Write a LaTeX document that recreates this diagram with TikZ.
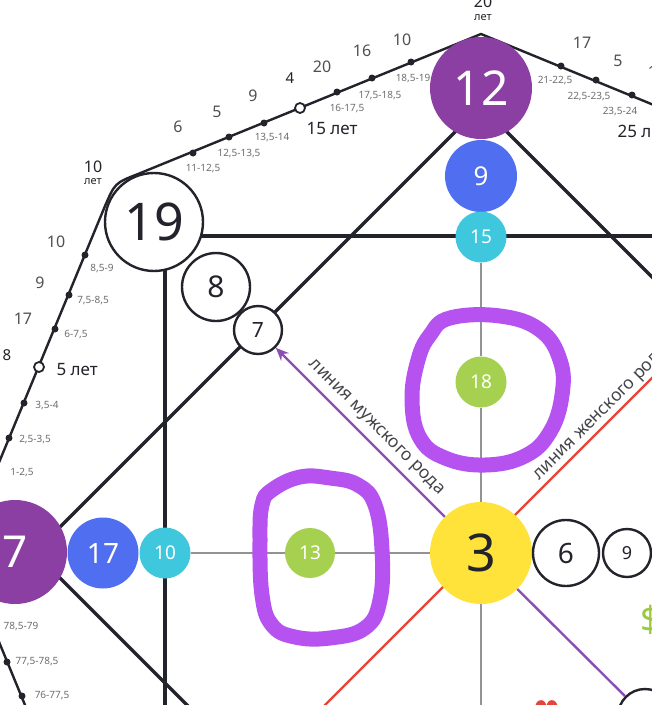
\documentclass[tikz,border=0pt]{standalone}
\usepackage{fontspec}
\setmainfont{Noto Sans}
\newfontfamily\symbolfont{DejaVu Sans}
\usetikzlibrary{arrows.meta}
\definecolor{plum}{HTML}{8B3FA3}
\definecolor{royal}{HTML}{4F6EF0}
\definecolor{aqua}{HTML}{3FC7DE}
\definecolor{leaf}{HTML}{A6D150}
\definecolor{sun}{HTML}{FFE33B}
\definecolor{ink}{HTML}{23232B}
\definecolor{agegray}{HTML}{6E6E73}
\definecolor{numgray}{HTML}{505055}
\definecolor{maleline}{HTML}{8D4DB5}
\definecolor{femaleline}{HTML}{E5443A}
\definecolor{marker}{HTML}{B653F0}
\definecolor{money}{HTML}{9BCB3C}
\newcommand{\sizept}[1]{\fontsize{#1}{#1}\selectfont}

\begin{document}
\begin{tikzpicture}[x=1pt, y=-1pt,
    ball/.style={circle, inner sep=0pt, text=white},
    ring/.style={circle, draw=ink, line width=2.4pt, fill=white, inner sep=0pt, text=ink},
    gridline/.style={ink, line width=3.2pt},
    octline/.style={ink, line width=2.4pt},
    midline/.style={gray!85, line width=1.8pt},
    agedot/.style={circle, fill=ink, inner sep=0pt, minimum size=7pt},
    opendot/.style={circle, draw=ink, fill=white, line width=1.8pt, inner sep=0pt, minimum size=10pt},
    age/.style={text=agegray, font=\sizept{10}},
    agenum/.style={text=numgray, font=\sizept{16}},
    year/.style={text=ink, font=\bfseries\sizept{17}},
    linelabel/.style={text=ink!85, font=\sizept{17.5}},
    handloop/.style={marker, line width=15pt, line cap=round, line join=round},
  ]
    \useasboundingbox (0,0) rectangle (652,705);
    \clip (0,0) rectangle (652,705);
    \fill[white] (0,0) rectangle (652,705);

    % Outer contour
    \coordinate (oLeft) at (-38,552);
    \coordinate (oCorner) at (115,183);
    \coordinate (oTop) at (481,34);
    \draw[octline] (32,722) -- (oLeft) -- (105,206) .. controls (oCorner) .. (138,174) -- (oTop) -- (700,124);

    % Square and diamond
    \draw[gridline] (154,236) -- (660,236);
    \draw[gridline] (165,222) -- (165,710);
    \draw[gridline] (500,87) -- (20,567);
    \draw[gridline] (20,538) -- (230,748);
    \draw[gridline] (470,95) -- (720,345);

    % Female line
    \draw[femaleline, line width=2.2pt] (300,730) -- (680,350);

    % Ages, top left edge
    \node[age] (a11) at (203,169) {11-12,5};
    \node[age] (a12) at (239,154) {12,5-13,5};
    \node[age] (a13) at (272,138) {13,5-14};
    \node[age] (a16) at (347,109) {16-17,5};
    \node[age] (a17) at (380,96) {17,5-18,5};
    \node[age] (a18) at (413,79) {18,5-19};
    \node[agedot] (d11) at (193,153) {};
    \node[agedot] (d12) at (229,137) {};
    \node[agedot] (d13) at (264,123) {};
    \node[opendot] (d15) at (300,108) {};
    \node[agedot] (d16) at (337,92) {};
    \node[agedot] (d17) at (372,78) {};
    \node[agedot] (d18) at (411,62) {};
    \node[agenum] (t6) at (178,127) {6};
    \node[agenum] (t5) at (217,112) {5};
    \node[agenum] (t9) at (253,96) {9};
    \node[text=ink, font=\bfseries\sizept{15}] (t4) at (290,78) {4};
    \node[agenum] (t20) at (322,67) {20};
    \node[agenum] (t16) at (362,51) {16};
    \node[agenum] (t10) at (402,40) {10};
    \node[year, anchor=west] (y15) at (303,129) {15 лет};
    \node[text=ink, font=\bfseries\sizept{16}] (y10) at (93,167) {10};
    \node[text=ink, font=\bfseries\sizept{11}] (y10b) at (93,182) {лет};
    \node[text=ink, font=\bfseries\sizept{16}] (y20) at (483,2) {20};
    \node[text=ink, font=\bfseries\sizept{11}] (y20b) at (483,18) {лет};

    % Ages, top right edge
    \node[agedot] (d21) at (561,66) {};
    \node[agedot] (d22) at (596,80) {};
    \node[agedot] (d23) at (632,95) {};
    \node[age] (a21) at (555,81) {21-22,5};
    \node[age] (a22) at (589,97) {22,5-23,5};
    \node[age] (a23) at (620,112) {23,5-24};
    \node[agenum] (r17) at (582,43) {17};
    \node[agenum] (r5) at (618,61) {5};
    \node[agenum] (r16) at (657,72) {16};
    \node[year, anchor=west] (y25) at (614,131) {25 лет};

    % Ages, left edge
    \node[agedot] (d8) at (85,255) {};
    \node[agedot] (d7) at (69,295) {};
    \node[agedot] (d6) at (55,329) {};
    \node[opendot] (d5) at (39,367) {};
    \node[agedot] (d3) at (24,403) {};
    \node[agedot] (d2) at (9,438) {};
    \node[agedot] (d1) at (-5,471) {};
    \node[age] (a8) at (102,269) {8,5-9};
    \node[age] (a7) at (93,301) {7,5-8,5};
    \node[age] (a6) at (76,335) {6-7,5};
    \node[age] (a3) at (47,406) {3,5-4};
    \node[age] (a2) at (35,440) {2,5-3,5};
    \node[age] (a1) at (22,473) {1-2,5};
    \node[agenum] (l10) at (56,242) {10};
    \node[agenum] (l9) at (40,283) {9};
    \node[agenum] (l17) at (23,319) {17};
    \node[text=ink, font=\bfseries\sizept{15}] (l8) at (7,355) {8};
    \node[year, anchor=west] (y5) at (53,370) {5 лет};

    % Ages, bottom left edge
    \node[agedot] (d77) at (7,662) {};
    \node[agedot] (d76) at (22,696) {};
    \node[age] (a78) at (21,627) {78,5-79};
    \node[age] (a77) at (37,662) {77,5-78,5};
    \node[age] (a76) at (52,696) {76-77,5};

    % Circles
    \node[ball, fill=plum, minimum size=102pt, font=\sizept{48}] (n12) at (481,88) {12};
    \node[ball, fill=royal, minimum size=72pt, font=\sizept{26}] (n9t) at (481,176) {9};
    \node[ball, fill=aqua, minimum size=51pt, font=\sizept{19}] (n15) at (481,237) {15};
    \node[ball, fill=leaf, minimum size=51pt, font=\sizept{19}] (n18) at (481,382) {18};
    \node[ball, fill=sun, text=ink, minimum size=102pt, font=\sizept{52}] (n3) at (481,553) {3};
    \node[ring, minimum size=98pt, font=\sizept{52}] (n19) at (154,222) {19};
    \node[ring, minimum size=68pt, font=\sizept{30}] (n8) at (216,287) {8};
    \node[ring, minimum size=48pt, font=\sizept{21}] (n7s) at (258,330) {7};
    \node[ball, fill=plum, minimum size=104pt, font=\sizept{44}] (n7) at (15,552) {7};
    \node[ball, fill=royal, minimum size=71pt, font=\sizept{28}] (n17) at (103,553) {17};
    \node[ball, fill=aqua, minimum size=51pt, font=\sizept{19}] (n10) at (165,553) {10};
    \node[ball, fill=leaf, minimum size=50pt, font=\sizept{19}] (n13) at (310,553) {13};
    \node[ring, minimum size=66pt, font=\sizept{28}] (n6) at (566,553) {6};
    \node[ring, minimum size=48pt, font=\sizept{18}] (n9r) at (627,553) {9};
    \node[ring, minimum size=54pt, font=\sizept{26}] (n17b) at (645,716) {17};

    % Middle lines
    \coordinate (axisEnd) at (481,712);
    \draw[midline] (n15) -- (n18) -- (n3) -- (axisEnd);
    \draw[midline] (n10) -- (n13) -- (n3);

    % Male line
    \draw[maleline, line width=2.4pt, -{Stealth[length=13pt, width=11pt]}] (n3) -- (n7s);
    \draw[maleline, line width=2.4pt] (n3) -- (n17b);
    \node[linelabel, rotate=-45] (male) at (376,428) {линия мужского рода};
    \node[linelabel, rotate=45] (female) at (602,414) {линия женского рода};

    % Money and love
    \node[text=money, font=\bfseries\sizept{36}] (money) at (651,620) {\$};
    \node[text=femaleline, font=\symbolfont\sizept{30}, anchor=north, inner sep=0pt] (heart) at (547,700) {♥};

    % Hand drawn loops
    \draw[handloop] plot[smooth cycle, tension=0.7] coordinates {(450,318) (500,316) (540,330) (560,360) (562,395) (550,432) (525,456) (485,465) (445,458) (420,438) (412,400) (418,360) (430,335)};
    \draw[handloop] plot[smooth cycle, tension=0.7] coordinates {(272,490) (300,477) (330,478) (358,485) (375,505) (382,550) (380,600) (365,628) (330,638) (295,637) (272,625) (262,595) (260,540) (262,505)};
\end{tikzpicture}
\end{document}
